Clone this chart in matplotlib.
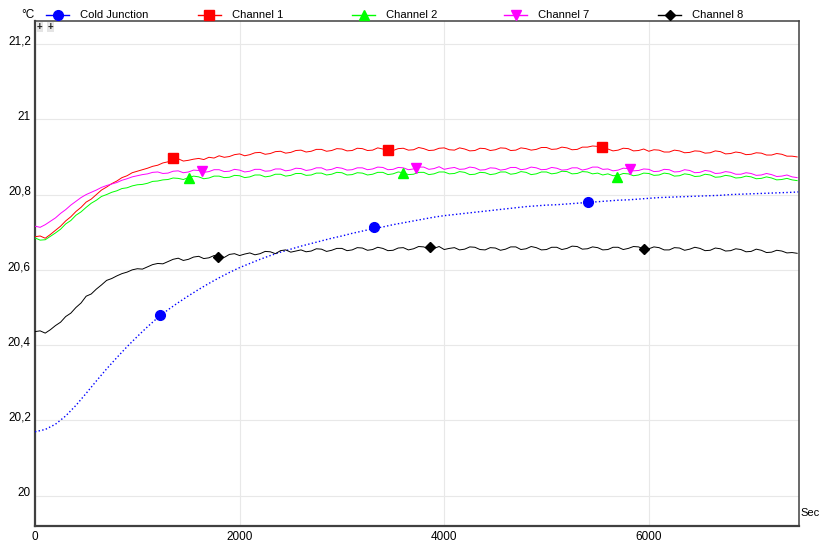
import matplotlib
matplotlib.use("Agg")
import matplotlib.pyplot as plt
from matplotlib.lines import Line2D
from matplotlib.ticker import FuncFormatter, FixedLocator
import matplotlib.transforms as mtransforms

plt.rcParams['font.family'] = ['Liberation Sans', 'DejaVu Sans']

# ---------------- data ----------------
cj_time_s = list(range(0, 7500, 100)) + [7460]
cold_junction = [
    20.170, 20.176, 20.190, 20.212, 20.240, 20.272, 20.305, 20.337, 20.367, 20.396,
    20.423, 20.449, 20.473, 20.494, 20.513, 20.531, 20.548, 20.564, 20.579, 20.593,
    20.606, 20.617, 20.628, 20.638, 20.647, 20.655, 20.663, 20.670, 20.677, 20.684,
    20.690, 20.697, 20.703, 20.709, 20.714, 20.720, 20.725, 20.730, 20.735, 20.740,
    20.744, 20.747, 20.750, 20.753, 20.756, 20.759, 20.762, 20.765, 20.768, 20.770,
    20.772, 20.773, 20.775, 20.777, 20.779, 20.781, 20.783, 20.785, 20.786, 20.788,
    20.790, 20.792, 20.793, 20.794, 20.795, 20.796, 20.797, 20.798, 20.800, 20.801,
    20.802, 20.803, 20.804, 20.805, 20.806, 20.807]

ch_time_s = list(range(0, 7500, 50))

channel_1 = [
    20.688, 20.690, 20.684, 20.694, 20.705, 20.716, 20.730, 20.741, 20.755, 20.766,
    20.780, 20.788, 20.800, 20.812, 20.820, 20.829, 20.836, 20.845, 20.850, 20.858,
    20.862, 20.866, 20.870, 20.875, 20.878, 20.884, 20.887, 20.893, 20.895, 20.889,
    20.891, 20.894, 20.896, 20.893, 20.899, 20.897, 20.903, 20.899, 20.901, 20.906,
    20.908, 20.903, 20.906, 20.911, 20.912, 20.907, 20.909, 20.914, 20.915, 20.910,
    20.912, 20.917, 20.918, 20.913, 20.915, 20.920, 20.920, 20.915, 20.917, 20.922,
    20.921, 20.916, 20.917, 20.923, 20.922, 20.917, 20.918, 20.924, 20.921, 20.919,
    20.917, 20.922, 20.923, 20.918, 20.919, 20.925, 20.922, 20.917, 20.918, 20.923,
    20.924, 20.919, 20.918, 20.924, 20.921, 20.916, 20.917, 20.923, 20.922, 20.917,
    20.919, 20.924, 20.923, 20.917, 20.918, 20.924, 20.922, 20.918, 20.920, 20.925,
    20.925, 20.920, 20.921, 20.926, 20.924, 20.919, 20.920, 20.926, 20.926, 20.929,
    20.928, 20.923, 20.921, 20.916, 20.918, 20.923, 20.922, 20.916, 20.917, 20.921,
    20.915, 20.919, 20.918, 20.913, 20.913, 20.918, 20.916, 20.911, 20.912, 20.916,
    20.915, 20.910, 20.911, 20.916, 20.914, 20.908, 20.909, 20.913, 20.911, 20.906,
    20.907, 20.911, 20.910, 20.905, 20.905, 20.909, 20.907, 20.902, 20.902, 20.900]

channel_2 = [
    20.685, 20.679, 20.680, 20.689, 20.698, 20.708, 20.722, 20.731, 20.745, 20.754,
    20.766, 20.777, 20.785, 20.795, 20.800, 20.806, 20.810, 20.816, 20.818, 20.823,
    20.826, 20.827, 20.830, 20.835, 20.836, 20.839, 20.840, 20.844, 20.843, 20.840,
    20.845, 20.849, 20.847, 20.842, 20.844, 20.849, 20.849, 20.845, 20.846, 20.851,
    20.850, 20.845, 20.847, 20.852, 20.852, 20.847, 20.849, 20.854, 20.854, 20.849,
    20.851, 20.856, 20.856, 20.851, 20.852, 20.857, 20.857, 20.852, 20.854, 20.859,
    20.858, 20.852, 20.853, 20.858, 20.857, 20.852, 20.854, 20.859, 20.859, 20.853,
    20.855, 20.860, 20.858, 20.853, 20.854, 20.859, 20.859, 20.853, 20.855, 20.860,
    20.860, 20.855, 20.856, 20.861, 20.859, 20.853, 20.854, 20.859, 20.858, 20.853,
    20.855, 20.860, 20.860, 20.854, 20.856, 20.861, 20.859, 20.853, 20.855, 20.860,
    20.860, 20.855, 20.857, 20.862, 20.861, 20.855, 20.856, 20.861, 20.860, 20.855,
    20.857, 20.852, 20.855, 20.850, 20.851, 20.856, 20.855, 20.850, 20.852, 20.857,
    20.856, 20.851, 20.852, 20.857, 20.855, 20.849, 20.850, 20.855, 20.853, 20.848,
    20.849, 20.854, 20.852, 20.846, 20.847, 20.851, 20.849, 20.844, 20.845, 20.849,
    20.847, 20.842, 20.843, 20.847, 20.844, 20.839, 20.840, 20.843, 20.839, 20.837]

channel_7 = [
    20.716, 20.713, 20.720, 20.729, 20.738, 20.750, 20.760, 20.772, 20.782, 20.792,
    20.800, 20.806, 20.812, 20.819, 20.824, 20.828, 20.832, 20.838, 20.842, 20.847,
    20.850, 20.853, 20.855, 20.859, 20.860, 20.856, 20.857, 20.862, 20.863, 20.858,
    20.860, 20.865, 20.864, 20.859, 20.861, 20.866, 20.866, 20.861, 20.862, 20.867,
    20.865, 20.860, 20.862, 20.867, 20.867, 20.862, 20.863, 20.868, 20.868, 20.863,
    20.865, 20.870, 20.869, 20.864, 20.866, 20.871, 20.871, 20.865, 20.867, 20.872,
    20.870, 20.865, 20.866, 20.871, 20.871, 20.866, 20.868, 20.873, 20.872, 20.866,
    20.867, 20.872, 20.871, 20.866, 20.868, 20.873, 20.873, 20.867, 20.869, 20.874,
    20.867, 20.870, 20.872, 20.867, 20.868, 20.873, 20.871, 20.865, 20.866, 20.871,
    20.870, 20.865, 20.867, 20.872, 20.872, 20.866, 20.868, 20.873, 20.871, 20.866,
    20.867, 20.872, 20.870, 20.865, 20.866, 20.871, 20.871, 20.865, 20.868, 20.873,
    20.873, 20.867, 20.868, 20.863, 20.865, 20.870, 20.869, 20.863, 20.864, 20.868,
    20.867, 20.861, 20.862, 20.867, 20.866, 20.860, 20.861, 20.866, 20.864, 20.858,
    20.859, 20.864, 20.862, 20.856, 20.857, 20.861, 20.859, 20.854, 20.854, 20.858,
    20.856, 20.851, 20.852, 20.856, 20.853, 20.848, 20.849, 20.852, 20.847, 20.845]

channel_8 = [
    20.436, 20.438, 20.432, 20.441, 20.452, 20.461, 20.476, 20.485, 20.500, 20.512,
    20.530, 20.536, 20.549, 20.560, 20.572, 20.577, 20.584, 20.590, 20.594, 20.600,
    20.603, 20.602, 20.608, 20.614, 20.617, 20.616, 20.622, 20.628, 20.631, 20.625,
    20.628, 20.634, 20.636, 20.630, 20.632, 20.638, 20.637, 20.633, 20.641, 20.643,
    20.638, 20.642, 20.645, 20.640, 20.643, 20.649, 20.648, 20.643, 20.651, 20.653,
    20.647, 20.650, 20.653, 20.648, 20.650, 20.656, 20.655, 20.649, 20.652, 20.657,
    20.657, 20.651, 20.653, 20.659, 20.658, 20.652, 20.654, 20.660, 20.657, 20.651,
    20.652, 20.658, 20.659, 20.653, 20.656, 20.662, 20.661, 20.655, 20.657, 20.662,
    20.654, 20.657, 20.659, 20.653, 20.655, 20.661, 20.660, 20.654, 20.653, 20.659,
    20.658, 20.652, 20.655, 20.661, 20.661, 20.654, 20.656, 20.662, 20.659, 20.653,
    20.654, 20.660, 20.660, 20.654, 20.657, 20.663, 20.662, 20.655, 20.656, 20.661,
    20.659, 20.653, 20.654, 20.660, 20.660, 20.654, 20.657, 20.662, 20.661, 20.655,
    20.656, 20.661, 20.659, 20.653, 20.653, 20.659, 20.658, 20.652, 20.655, 20.660,
    20.657, 20.651, 20.652, 20.658, 20.656, 20.650, 20.651, 20.656, 20.654, 20.648,
    20.649, 20.655, 20.652, 20.646, 20.647, 20.652, 20.650, 20.645, 20.646, 20.644]

# marker positions along each series
cj_mark_x = [1225, 3314, 5402]
cj_mark_y = [20.480, 20.713, 20.780]
ch1_mark_x = [1353, 3451, 5539]
ch1_mark_y = [20.896, 20.918, 20.927]
ch2_mark_x = [1510, 3598, 5686]
ch2_mark_y = [20.843, 20.856, 20.846]
ch7_mark_x = [1637, 3725, 5814]
ch7_mark_y = [20.863, 20.870, 20.867]
ch8_mark_x = [1784, 3863, 5951]
ch8_mark_y = [20.635, 20.661, 20.655]

series_names = ["Cold Junction", "Channel 1", "Channel 2", "Channel 7", "Channel 8"]
x_ticks = [0, 2000, 4000, 6000]
y_ticks = [20.0, 20.2, 20.4, 20.6, 20.8, 21.0, 21.2]

# ---------------- plot ----------------
fig = plt.figure(figsize=(8.19, 5.44), dpi=100)
ax = fig.add_axes([35 / 819, 1 - 525.5 / 544, 764 / 819, 504.5 / 544])

series = [
    (cj_time_s, cold_junction, cj_mark_x, cj_mark_y, "#0000ff", "o", ":", 1.0, 7),
    (ch_time_s, channel_1, ch1_mark_x, ch1_mark_y, "#ff0000", "s", "-", 0.7, 6.5),
    (ch_time_s, channel_2, ch2_mark_x, ch2_mark_y, "#00ff00", "^", "-", 0.7, 7),
    (ch_time_s, channel_7, ch7_mark_x, ch7_mark_y, "#ff00ff", "v", "-", 0.7, 7),
    (ch_time_s, channel_8, ch8_mark_x, ch8_mark_y, "#000000", "D", "-", 0.7, 5.5),
]

for (tx, vals, mx, my, col, mk, ls, lw, ms), name in zip(series, series_names):
    ax.plot(tx, vals, color=col, linestyle=ls, linewidth=lw, zorder=3)
    ax.plot(mx, my, linestyle="none", marker=mk, color=col, markersize=ms, zorder=4)

ax.set_xlim(0, 7468)
ax.set_ylim(19.921, 21.261)
ax.xaxis.set_major_locator(FixedLocator(x_ticks))
ax.yaxis.set_major_locator(FixedLocator(y_ticks))
ax.yaxis.set_major_formatter(FuncFormatter(lambda v, p: ("%g" % round(v, 1)).replace(".", ",")))
ax.xaxis.set_major_formatter(FuncFormatter(lambda v, p: "%d" % v))
ax.grid(True, color="#e8e8e8", linewidth=0.8, zorder=0)
ax.tick_params(axis="both", length=0, labelsize=8.5, colors="#000000")
ax.tick_params(axis="y", pad=3)
ax.tick_params(axis="x", pad=4)
offset = mtransforms.ScaledTranslation(0, 3 / 72, fig.dpi_scale_trans)
for lab in ax.get_yticklabels():
    lab.set_transform(lab.get_transform() + offset)

for side in ["left", "bottom"]:
    ax.spines[side].set_color("#404040")
    ax.spines[side].set_linewidth(1.6)
for side in ["top", "right"]:
    ax.spines[side].set_color("#404040")
    ax.spines[side].set_linewidth(1.1)

# small "+" buttons in the corner
for px in [39.5, 50.5]:
    ax.text((px - 35) / 764, 1 - 6 / 504.5, "+", transform=ax.transAxes, fontsize=7,
            ha="center", va="center", fontweight="bold", color="#202020",
            bbox=dict(boxstyle="square,pad=0.05", fc="#e4e4e4", ec="none"))

# axis unit labels
fig.text(35 / 819, 1 - 15 / 544, "°C", ha="right", va="center", fontsize=8.5)
fig.text(800.5 / 819, 1 - 513 / 544, "Sec", ha="left", va="center", fontsize=8)

# legend row
leg_line_x0 = [46, 198, 352, 504, 658]
for (tx, vals, mx, my, col, mk, ls, lw, ms), name, x0 in zip(series, series_names, leg_line_x0):
    yy = 1 - 15 / 544
    fig.add_artist(Line2D([x0 / 819, (x0 + 23) / 819], [yy, yy], color=col, linewidth=1.0,
                          transform=fig.transFigure))
    fig.add_artist(Line2D([(x0 + 11.5) / 819], [yy], color=col, marker=mk, markersize=ms,
                          linestyle="none", transform=fig.transFigure))
    fig.text((x0 + 34) / 819, yy, name, ha="left", va="center", fontsize=8.1)

fig.savefig("out.png", dpi=100)
